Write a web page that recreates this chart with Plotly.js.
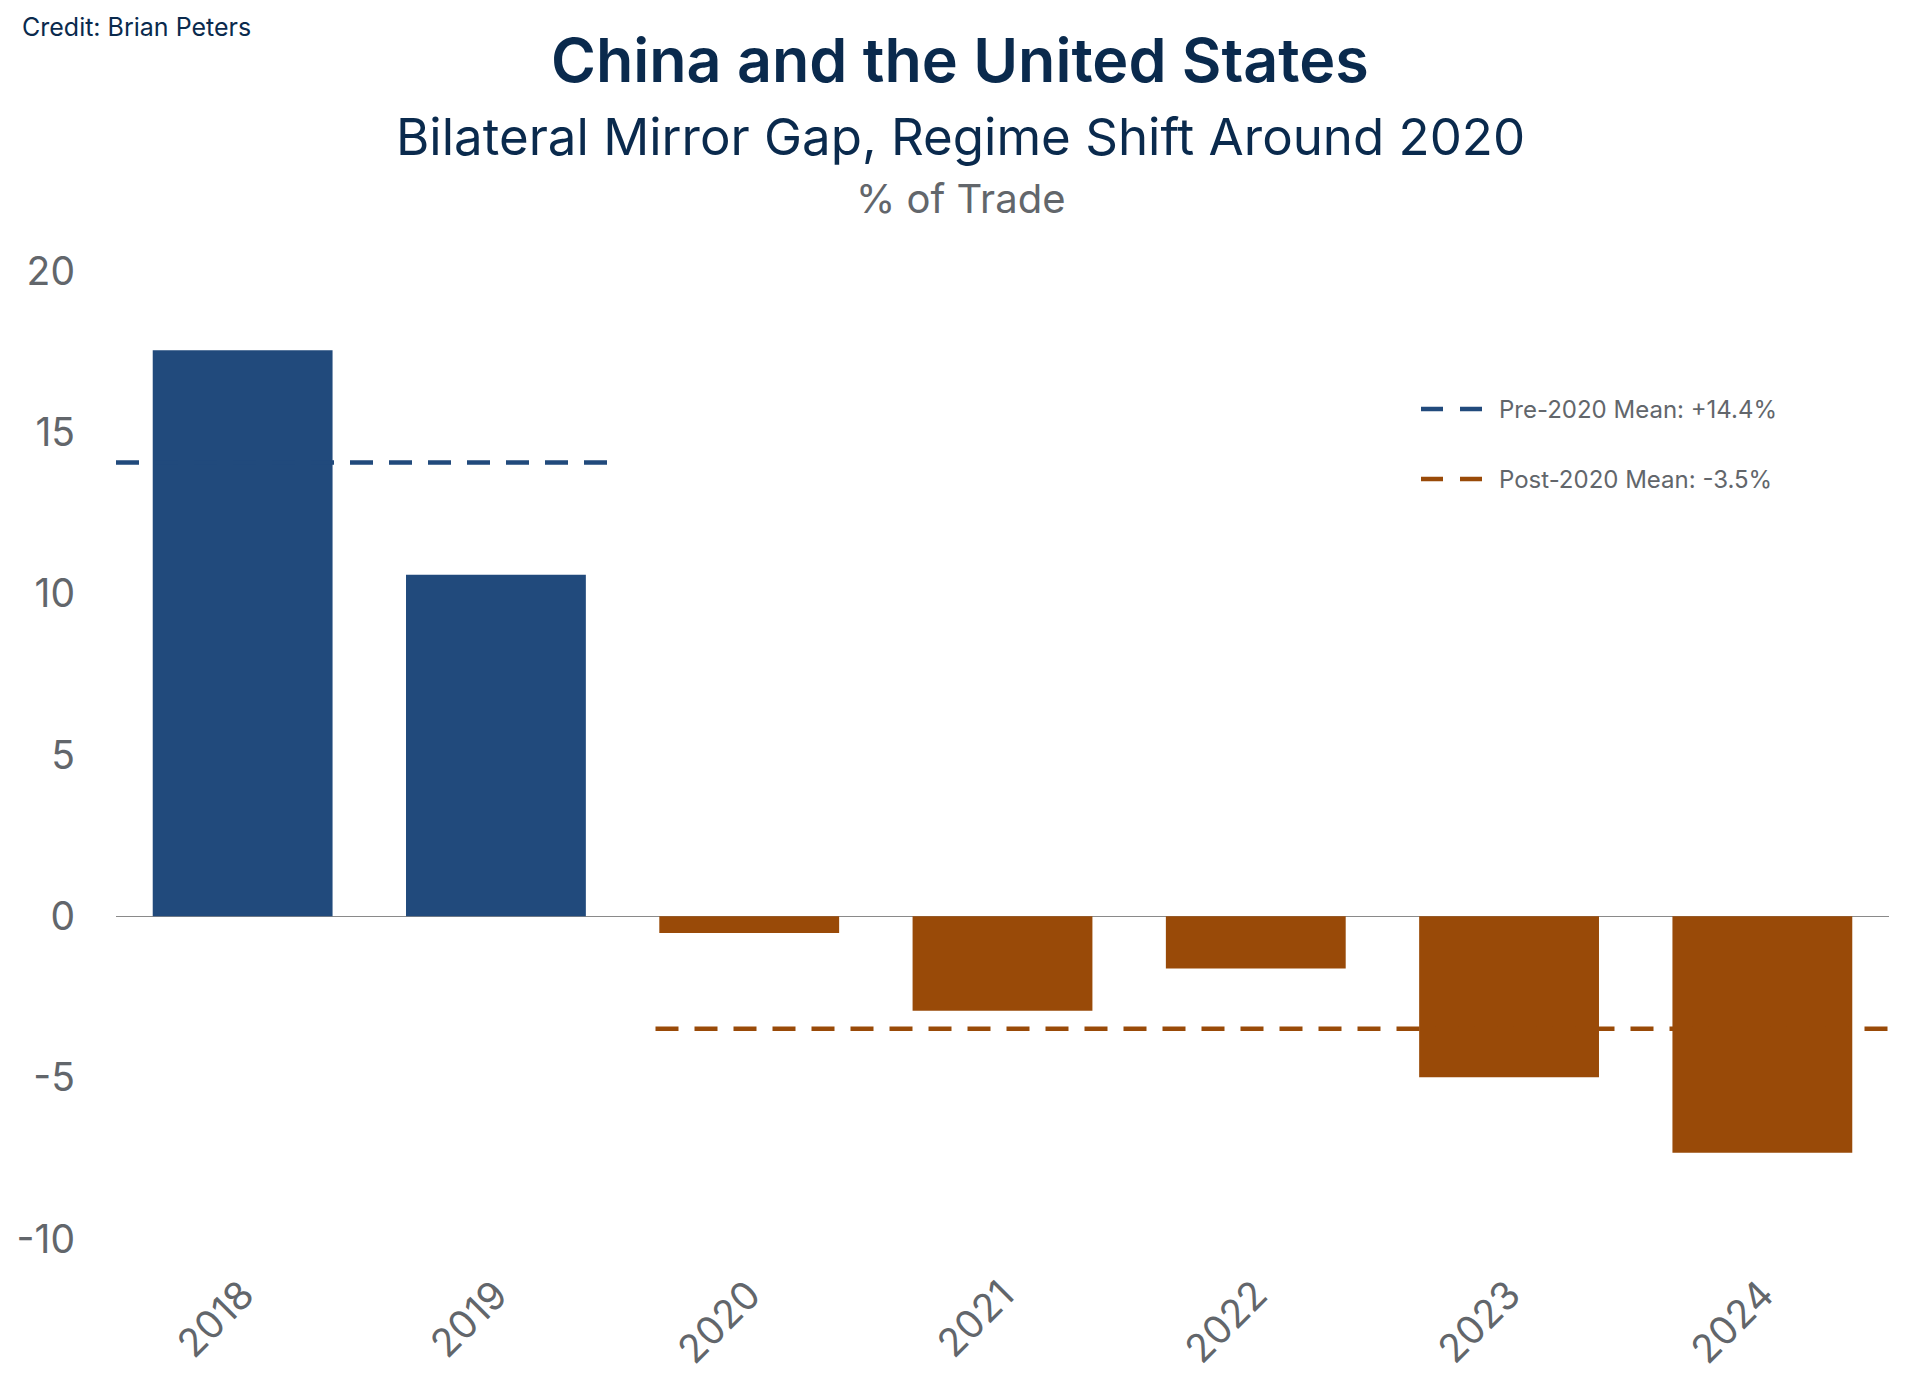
<!DOCTYPE html>
<html>
<head>
<meta charset="utf-8">
<script src="https://cdn.plot.ly/plotly-3.0.1.min.js"></script>
<style>
  html, body { margin: 0; padding: 0; background: #ffffff; }
  #chart { width: 1920px; height: 1393px; }
</style>
</head>
<body>
<div id="chart"></div>
<script>
// ---- Data ----
const years = ['2018', '2019', '2020', '2021', '2022', '2023', '2024'];
const mirrorGap = [17.55, 10.59, -0.52, -2.93, -1.62, -4.99, -7.33];
const regimeYear = 2020;

const preMeanValue = 14.07;
const postMeanValue = -3.49;
const preMeanLabel = 'Pre-2020 Mean: +14.4%';
const postMeanLabel = 'Post-2020 Mean: -3.5%';
// extents of the mean lines along the category axis (category index units)
const preMeanSpan = [-0.5, 1.5];
const postMeanSpan = [1.63, 6.5];

const yTickVals = [-10, -5, 0, 5, 10, 15, 20];
const yTickText = ['-10', '-5', '0', '5', '10', '15', '20'];

const titleText = 'China and the United States';
const subtitleText = 'Bilateral Mirror Gap, Regime Shift Around 2020';
const unitText = '% of Trade';
const creditText = 'Credit: Brian Peters';

// ---- Styles ----
const FONT = 'Inter, "Noto Sans", sans-serif';
const BLUE = '#214a7c';
const ORANGE = '#994a08';
const NAVY = '#0a2a4d';
const GREY = '#62666b';
const DASH = '23px,16px';

const W = 1920, H = 1393;
const M = { l: 116, r: 31, t: 255, b: 138 };
const PW = W - M.l - M.r, PH = H - M.t - M.b;
const px2x = px => (px - M.l) / PW;
const py2y = py => (H - M.b - py) / PH;

const barColors = years.map(y => (+y < regimeYear ? BLUE : ORANGE));

const traces = [
  {
    type: 'bar',
    x: years,
    y: mirrorGap,
    marker: { color: barColors, line: { width: 0 } },
    showlegend: false,
    hoverinfo: 'x+y'
  },
  {
    type: 'scatter',
    mode: 'lines',
    xaxis: 'x2',
    yaxis: 'y',
    x: preMeanSpan,
    y: [preMeanValue, preMeanValue],
    line: { color: BLUE, width: 4.5, dash: DASH },
    showlegend: false,
    hoverinfo: 'skip'
  },
  {
    type: 'scatter',
    mode: 'lines',
    xaxis: 'x2',
    yaxis: 'y',
    x: postMeanSpan,
    y: [postMeanValue, postMeanValue],
    line: { color: ORANGE, width: 4.5, dash: DASH },
    showlegend: false,
    hoverinfo: 'skip'
  }
];

const legendRows = [
  { label: preMeanLabel, color: BLUE, y: 409 },
  { label: postMeanLabel, color: ORANGE, y: 479 }
];

const shapes = legendRows.map(r => ({
  type: 'line', xref: 'paper', yref: 'paper',
  x0: px2x(1421), x1: px2x(1483), y0: py2y(r.y), y1: py2y(r.y),
  line: { color: r.color, width: 4.5, dash: '22px,17px' }
}));

const annotations = [
  { text: titleText, y: 60, size: 61, color: NAVY, weight: 600 },
  { text: subtitleText, y: 136, size: 51, color: NAVY, weight: 400 },
  { text: unitText, y: 198, size: 40, color: GREY, weight: 400 }
].map(a => ({
  text: a.text, xref: 'paper', yref: 'paper',
  x: px2x(960), y: py2y(a.y), xanchor: 'center', yanchor: 'middle',
  showarrow: false, font: { family: FONT, size: a.size, color: a.color, weight: a.weight }
}));

annotations.push({
  text: creditText, xref: 'paper', yref: 'paper',
  x: px2x(20), y: py2y(27), xanchor: 'left', yanchor: 'middle',
  showarrow: false, font: { family: FONT, size: 25, color: NAVY }
});

legendRows.forEach(r => annotations.push({
  text: r.label, xref: 'paper', yref: 'paper',
  x: px2x(1497), y: py2y(r.y), xanchor: 'left', yanchor: 'middle',
  showarrow: false, font: { family: FONT, size: 24, color: GREY }
}));

const layout = {
  width: W, height: H,
  margin: M,
  paper_bgcolor: '#ffffff',
  plot_bgcolor: '#ffffff',
  font: { family: FONT, color: GREY },
  bargap: 0.29,
  showlegend: false,
  xaxis: {
    type: 'category',
    categoryorder: 'array',
    categoryarray: years,
    range: [-0.5, 6.5],
    showgrid: false, showline: false, zeroline: false,
    ticks: '',
    tickangle: -45,
    ticklabelstandoff: 8,
    tickfont: { family: FONT, size: 39, color: GREY }
  },
  xaxis2: {
    overlaying: 'x',
    anchor: 'y',
    range: [-0.5, 6.5],
    visible: false
  },
  yaxis: {
    range: [-10.5, 20.5],
    tickmode: 'array',
    tickvals: yTickVals,
    ticktext: yTickText,
    showgrid: false, showline: false,
    zeroline: true, zerolinecolor: '#8a8a8a', zerolinewidth: 1.5,
    ticks: '',
    ticklabelstandoff: 40,
    tickfont: { family: FONT, size: 39, color: GREY }
  },
  shapes: shapes,
  annotations: annotations
};

Plotly.newPlot('chart', traces, layout, { displayModeBar: false, staticPlot: true });
</script>
</body>
</html>
